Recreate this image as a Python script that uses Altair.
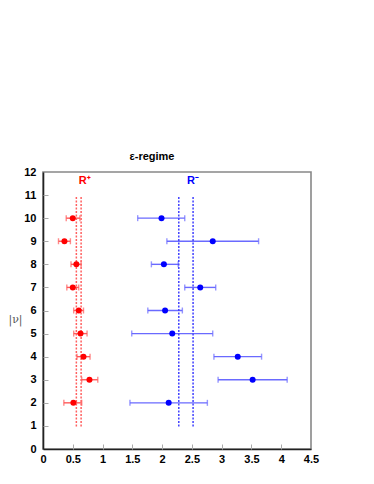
import altair as alt
import pandas as pd

# |nu| sectors
nu = [2, 3, 4, 5, 6, 7, 8, 9, 10]

# R+ (red)
rp_val = [0.51, 0.78, 0.68, 0.63, 0.60, 0.50, 0.56, 0.36, 0.50]
rp_lo = [0.35, 0.65, 0.57, 0.515, 0.515, 0.40, 0.47, 0.26, 0.39]
rp_hi = [0.65, 0.92, 0.79, 0.74, 0.68, 0.60, 0.64, 0.46, 0.62]

# R- (blue)
rm_val = [2.11, 3.52, 3.27, 2.17, 2.05, 2.64, 2.03, 2.85, 1.99]
rm_lo = [1.46, 2.94, 2.87, 1.49, 1.76, 2.38, 1.82, 2.08, 1.59]
rm_hi = [2.76, 4.10, 3.67, 2.85, 2.34, 2.90, 2.27, 3.62, 2.38]

# band lines (dashed verticals)
rp_band = [0.56, 0.64]
rm_band = [2.28, 2.52]
band_y0 = 0.97
band_y1 = 10.93

# annotation labels
label_text = ["R\u207a", "R\u207b"]
label_x = [0.7, 2.52]
label_y = [11.6, 11.6]

x_ticks = [0, 0.5, 1, 1.5, 2, 2.5, 3, 3.5, 4, 4.5]
y_ticks = list(range(13))

xscale = alt.Scale(domain=[0, 4.5], nice=False)
yscale = alt.Scale(domain=[0, 12], nice=False)

xaxis = alt.Axis(values=x_ticks, title=None, format="~g",
                 labelFontWeight="bold", labelFontSize=11, labelColor="#000",
                 labelFont="Liberation Sans", ticks=False, domainColor="#222",
                 labelOverlap=False, labelFlush=False,
                 domainWidth=1.6, grid=False, labelPadding=4)
yaxis = alt.Axis(values=y_ticks, title="|\u03bd|", titleAngle=0, titleAlign="center",
                 titleBaseline="middle", format="d",
                 labelOverlap=False, labelFlush=False,
                 titleX=-28, titleY=147, titleFontWeight="normal", titleFontSize=11,
                 titleFont="DejaVu Serif", titleColor="#555",
                 labelFontWeight="bold", labelFontSize=11, labelColor="#000",
                 labelFont="Liberation Sans", ticks=False, domainColor="#222",
                 domainWidth=1.6, grid=False, labelPadding=7)

series = [
    (rp_val, rp_lo, rp_hi, rp_band, "#ff0000", "#ff5a5a", "#ff6060"),
    (rm_val, rm_lo, rm_hi, rm_band, "#0000ff", "#6a6aff", "#4040ff"),
]

layers = []
for val, lo, hi, bnd, pc, ec, bc in series:
    d = pd.DataFrame({"nu": nu, "val": val, "lo": lo, "hi": hi})
    b = pd.DataFrame({"x": bnd, "y0": [band_y0] * len(bnd), "y1": [band_y1] * len(bnd)})
    layers.append(alt.Chart(d).mark_rule(strokeWidth=1.4, color=ec).encode(
        x=alt.X("lo:Q", scale=xscale, axis=xaxis), x2="hi:Q",
        y=alt.Y("nu:Q", scale=yscale, axis=yaxis)))
    layers.append(alt.Chart(d).mark_tick(orient="vertical", size=6, thickness=1.4, color=ec).encode(
        x=alt.X("lo:Q", axis=xaxis), y=alt.Y("nu:Q", axis=yaxis)))
    layers.append(alt.Chart(d).mark_tick(orient="vertical", size=6, thickness=1.4, color=ec).encode(
        x=alt.X("hi:Q", axis=xaxis), y=alt.Y("nu:Q", axis=yaxis)))
    layers.append(alt.Chart(b).mark_rule(strokeDash=[2, 1.5], strokeWidth=1.5, color=bc).encode(
        x=alt.X("x:Q", axis=xaxis), y=alt.Y("y0:Q", axis=yaxis), y2="y1:Q"))
    layers.append(alt.Chart(d).mark_point(filled=True, shape="circle", size=36, opacity=1, color=pc).encode(
        x=alt.X("val:Q", axis=xaxis), y=alt.Y("nu:Q", axis=yaxis)))

for t, lx, ly, c in zip(label_text, label_x, label_y, ["#ff0000", "#0000ff"]):
    ld = pd.DataFrame({"text": [t], "x": [lx], "y": [ly]})
    layers.append(alt.Chart(ld).mark_text(fontWeight="bold", fontSize=11,
                                          font="Liberation Sans", color=c).encode(
        x=alt.X("x:Q", axis=xaxis), y=alt.Y("y:Q", axis=yaxis), text="text:N"))

main = alt.layer(*layers)

# inner tick marks via offset axes
tick_df = pd.DataFrame({"x": [0, 4.5], "y": [0, 12]})
tick_layer = alt.Chart(tick_df).mark_point(opacity=0).encode(
    x=alt.X("x:Q", scale=xscale,
            axis=alt.Axis(orient="bottom", offset=-5, values=x_ticks[1:-1],
                          labels=False, domain=False, tickSize=5, tickColor="#aaa",
                          tickWidth=1, title=None, grid=False)),
    y=alt.Y("y:Q", scale=yscale,
            axis=alt.Axis(orient="left", offset=-5, values=y_ticks[1:-1],
                          labels=False, domain=False, tickSize=5, tickColor="#aaa",
                          tickWidth=1, title=None, grid=False)))

chart = alt.layer(main, tick_layer).resolve_axis(
    x="independent", y="independent"
).properties(
    width=268, height=277,
    title=alt.TitleParams("\u03b5-regime", fontSize=11, fontWeight="bold",
                          font="Liberation Sans", anchor="middle", dx=-25, offset=4,
                          color="#000"),
    autosize=alt.AutoSizeParams(type="none"),
    padding={"left": 35, "top": 164, "right": 50, "bottom": 30},
).configure_view(stroke="#888", strokeWidth=1.6).configure_axis(labelOverlap=False)

chart.save("out.html", embed_options={"renderer": "svg", "actions": False})
